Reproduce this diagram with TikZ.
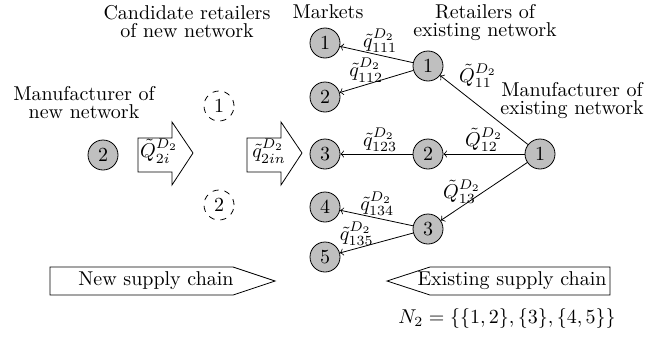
\documentclass[tikz,border=0pt]{standalone}

\begin{document}
\begin{tikzpicture}[x=0.5pt,y=-0.5pt,
    firm/.style={circle,draw,fill=gray!50,minimum size=15pt,inner sep=0pt},
    cand/.style={circle,draw,dashed,minimum size=15pt,inner sep=0pt},
    flow/.style={->},
    lab/.style={inner sep=1pt},
    head/.style={align=center,inner sep=0pt}]
    \useasboundingbox (0,0) rectangle (646,337);
    %% Titles
    \node[head] (candtitle) at (187,22) {Candidate retailers\\[-3pt]of new network};
    \node[head] (mkttitle) at (328,12) {Markets};
    \node[head] (rettitle) at (485,23) {Retailers of\\[-3pt]existing network};
    \node[head] (exmtitle) at (572,101) {Manufacturer of\\[-3pt]existing network};
    \node[head] (newmtitle) at (84,103) {Manufacturer of\\[-3pt]new network};
    %% Markets
    \node[firm] (m1) at (325,43) {1};
    \node[firm] (m2) at (325,97) {2};
    \node[firm] (m3) at (325,154) {3};
    \node[firm] (m4) at (325,207) {4};
    \node[firm] (m5) at (325,257) {5};
    %% Existing network
    \node[firm] (r1) at (428,66) {1};
    \node[firm] (r2) at (428,154) {2};
    \node[firm] (r3) at (428,229) {3};
    \node[firm] (e1) at (540,154) {1};
    \draw[flow] (e1) -- node[lab,above right,inner sep=0.5pt,pos=0.8] {$\tilde{Q}^{D_2}_{11}$} (r1);
    \draw[flow] (e1) -- node[lab,above] {$\tilde{Q}^{D_2}_{12}$} (r2);
    \draw[flow] (e1) -- node[lab,left,pos=0.51] {$\tilde{Q}^{D_2}_{13}$} (r3);
    \draw[flow] (r1) -- node[lab,above,pos=0.45] {$\tilde{q}^{D_2}_{111}$} (m1);
    \draw[flow] (r1) -- node[lab,above,pos=0.64] {$\tilde{q}^{D_2}_{112}$} (m2);
    \draw[flow] (r2) -- node[lab,above,pos=0.45] {$\tilde{q}^{D_2}_{123}$} (m3);
    \draw[flow] (r3) -- node[lab,above,pos=0.49] {$\tilde{q}^{D_2}_{134}$} (m4);
    \draw[flow] (r3) -- node[lab,above,pos=0.77] {$\tilde{q}^{D_2}_{135}$} (m5);
    %% New network
    \node[firm] (n2) at (103,155) {2};
    \node[cand] (c1) at (219,106) {1};
    \node[cand] (c2) at (219,205) {2};
    \draw (138,138) -- (172,138) -- (172,122) -- (193,153) -- (172,185) -- (172,172) -- (138,172) -- cycle;
    \node[lab] (flowQ) at (159,151) {$\tilde{Q}^{D_2}_{2i}$};
    \draw (247,138) -- (281,138) -- (281,122) -- (302,153) -- (281,185) -- (281,172) -- (247,172) -- cycle;
    \node[lab] (flowq) at (269,151) {$\tilde{q}^{D_2}_{2in}$};
    %% Supply chains
    \draw (50,267) -- (233,267) -- (275,281) -- (233,295) -- (50,295) -- cycle;
    \node (newchain) at (156,281) {New supply chain};
    \draw (610,267) -- (430,267) -- (387,281) -- (430,295) -- (610,295) -- cycle;
    \node (oldchain) at (512,281) {Existing supply chain};
    \node (partition) at (507,318) {$N_2=\{\{1,2\},\{3\},\{4,5\}\}$};
\end{tikzpicture}
\end{document}
